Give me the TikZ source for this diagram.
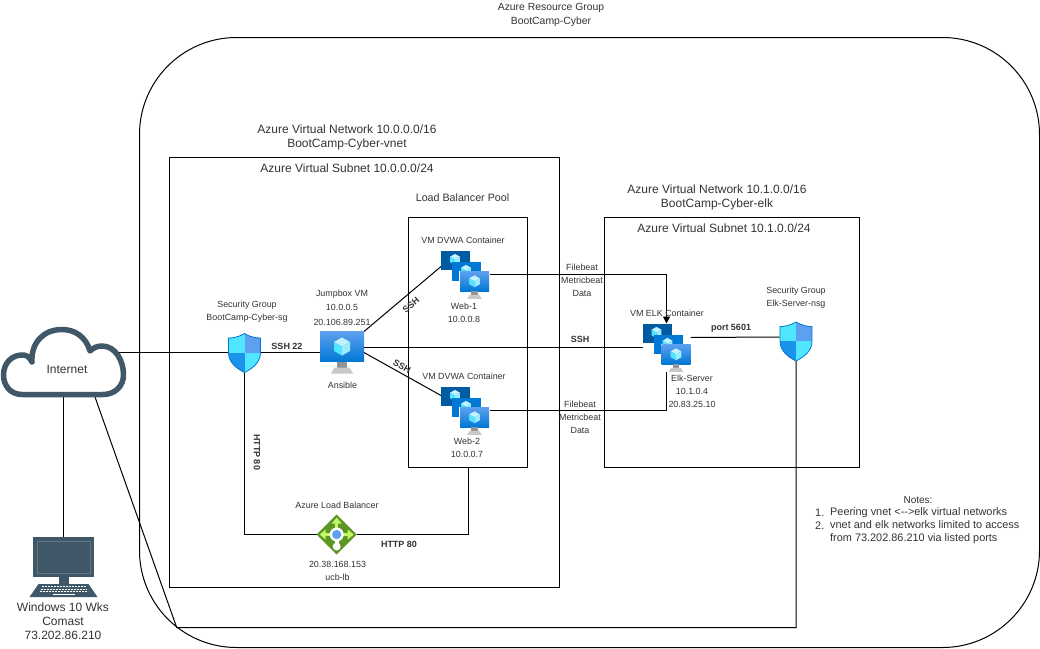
\documentclass[tikz,border=0pt]{standalone}
\usepackage{fontspec}
\setmainfont{Liberation Sans}
\usetikzlibrary{arrows.meta,calc}
\definecolor{txt}{HTML}{333333}
\definecolor{slate}{HTML}{3F5767}
\definecolor{vmdark}{HTML}{005BA1}
\definecolor{vmmid}{HTML}{0078D4}
\definecolor{vmtop}{HTML}{5EA0EF}
\definecolor{cubea}{HTML}{50E6FF}
\definecolor{cubeb}{HTML}{C3F1FF}
\definecolor{cubec}{HTML}{9CEBFF}
\definecolor{standa}{HTML}{949494}
\definecolor{standb}{HTML}{C8C8C8}
\definecolor{shieldblue}{HTML}{1B93EB}
\definecolor{shieldout}{HTML}{0078D4}
\definecolor{shieldlight}{HTML}{50E6FF}
\definecolor{lbgreen}{HTML}{5E9624}
\definecolor{lbarrow}{HTML}{C3F76C}
\tikzset{
  x=1pt,y=-1pt,
  line/.style={draw=black,line width=1pt},
  box/.style={draw=black,line width=1pt,fill=none},
  lab/.style={font=\fontsize{12}{14}\selectfont,text=txt,align=center,inner sep=0pt},
  title/.style={font=\fontsize{10.4}{14}\selectfont,text=txt,align=center,inner sep=0pt},
  small/.style={font=\fontsize{8.9}{13}\selectfont,text=txt,align=center,inner sep=0pt},
  notes/.style={font=\fontsize{10.9}{13}\selectfont,text=txt,align=left,inner sep=0pt,anchor=west},
  bold/.style={font=\fontsize{9}{12}\selectfont\bfseries,text=txt,align=center,inner sep=0pt},
  hold/.style={draw=none,fill=none,inner sep=0pt,outer sep=0pt,rectangle},
  pics/cube/.style={code={
    \begin{scope}[scale=#1]
      \fill[cubeb] (0,-9) -- (8,-4.5) -- (0,0) -- (-8,-4.5) -- cycle;
      \fill[cubea] (-8,-4.5) -- (0,0) -- (0,9) -- (-8,4.5) -- cycle;
      \fill[cubec] (8,-4.5) -- (0,0) -- (0,9) -- (8,4.5) -- cycle;
    \end{scope}}},
  pics/monitor/.style n args={2}{code={
    \path[top color=vmtop,bottom color=vmmid] (0,0) rectangle (#1,#2);
    \fill[standa] ({#1*0.38},#2) rectangle ({#1*0.62},{#2*1.2});
    \fill[standb] ({#1*0.25},{#2*1.4}) -- ({#1*0.75},{#2*1.4}) -- ({#1*0.67},{#2*1.2}) -- ({#1*0.33},{#2*1.2}) -- cycle;
    \pic at ({#1*0.5},{#2*0.5}) {cube={#1/44}};
  }},
  pics/vmstack/.style={code={
    \fill[vmdark] (0,0) rectangle (29,19);
    \pic at (14,9) {cube=0.62};
    \fill[vmmid] (11,11) rectangle (40,30);
    \pic at (25,20) {cube=0.62};
    \fill[white] (18,20) rectangle (49,42);
    \pic at (19,21) {monitor={29}{19.5}};
  }},
  pics/shield/.style={code={
    \def\shieldpath{(0,-19) .. controls (7,-15) and (12,-14.5) .. (16,-14.5) -- (16,0) .. controls (16,10) and (8,16) .. (0,20) .. controls (-8,16) and (-16,10) .. (-16,0) -- (-16,-14.5) .. controls (-12,-14.5) and (-7,-15) .. (0,-19) -- cycle}
    \begin{scope}
      \clip \shieldpath;
      \fill[shieldlight] (-17,-20) rectangle (0,0);
      \fill[vmtop] (0,-20) rectangle (17,0);
      \fill[shieldblue] (-17,0) rectangle (0,21);
      \fill[shieldlight] (0,0) rectangle (17,21);
    \end{scope}
    \draw[shieldout,line width=0.8pt] \shieldpath;
  }},
  pics/lbicon/.style={code={
    \fill[lbgreen] (0,-20) -- (20,0) -- (0,20) -- (-20,0) -- cycle;
    \fill[lbarrow] (-1.6,-14) -- (1.6,-14) -- (1.6,-5) -- (-1.6,-5) -- cycle;
    \fill[lbarrow] (0,-17) -- (5,-11) -- (-5,-11) -- cycle;
    \fill[lbarrow] (5,-1.6) -- (14,-1.6) -- (14,1.6) -- (5,1.6) -- cycle;
    \fill[lbarrow] (17,0) -- (11,-5) -- (11,5) -- cycle;
    \fill[lbarrow] (-5,-1.6) -- (-14,-1.6) -- (-14,1.6) -- (-5,1.6) -- cycle;
    \fill[lbarrow] (-17,0) -- (-11,-5) -- (-11,5) -- cycle;
    \fill[white] (-1.8,4) rectangle (1.8,10);
    \fill[white] (0,12) circle[radius=4];
    \fill[white] (0,0) circle[radius=7];
    \fill[vmtop] (0,0) circle[radius=4.6];
  }},
  pics/pcicon/.style={code={
    \fill[slate] (-30.5,0) rectangle (30.5,40);
    \draw[white,opacity=0.18,line width=0.8pt] (-26.5,4) rectangle (26.5,36);
    \fill[slate] (-5,40) rectangle (5,47);
    \fill[slate] (-25,47) -- (25,47) -- (34,60) -- (-34,60) -- cycle;
    \foreach \r/\a/\b in {49.5/-22/22,52/-23/23,54.5/-24/24}{
      \draw[white,line width=1pt,dash pattern=on 2pt off 1pt] (\a,\r) -- (\b,\r);
    }
    \draw[white,line width=1pt] (-11,57.5) -- (11,57.5);
  }},
}
\begin{document}
\begin{tikzpicture}
\useasboundingbox (0,0) rectangle (1040,648);

% containers
\draw[box] (139.5,134.5) arc[start angle=180,end angle=90,radius=97pt] -- (942.5,37.5)
  arc[start angle=90,end angle=0,radius=97pt] -- (1039.5,550.5)
  arc[start angle=0,end angle=-90,radius=97pt] -- (236.5,647.5)
  arc[start angle=-90,end angle=-180,radius=97pt] -- cycle;
\draw[box] (169.5,157.5) rectangle (559.5,587.5);
\draw[box] (408.5,217.5) rectangle (527.5,467.5);
\draw[box] (604.5,217.5) rectangle (859.5,467.5);

% icon holders
\node[hold,minimum width=125pt,minimum height=70pt] (inet) at (63.5,362) {};
\node[hold,minimum width=68pt,minimum height=60pt,anchor=north] (pc) at (63.5,537) {};
\node[hold,minimum width=32pt,minimum height=40pt] (sg) at (244.5,352.5) {};
\node[hold,minimum width=44pt,minimum height=42pt,anchor=north west] (jump) at (320,331.5) {};
\node[hold,minimum width=48pt,minimum height=48pt,anchor=north west] (web1) at (441,250.5) {};
\node[hold,minimum width=48pt,minimum height=48pt,anchor=north west] (web2) at (441,386.5) {};
\node[hold,minimum width=48pt,minimum height=48pt,anchor=north west] (elk) at (642.5,323.5) {};
\node[hold,minimum width=33pt,minimum height=40pt] (nsg) at (796,341) {};
\node[hold,minimum width=40pt,minimum height=40pt] (lb) at (336.7,534.5) {};
\coordinate (inetport) at (119,352.5);
\coordinate (c1) at (elk.north |- web1.east);
\coordinate (c2) at (elk.south |- web2.east);
\coordinate (c3) at (nsg.south |- 0,627.5);
\coordinate (c4) at (176.7,627.5);
\coordinate (c5) at (sg.south |- lb.west);
\coordinate (c6) at (468.5,534.5);
\coordinate (c7) at (468.5,467.5);
\coordinate (inetb) at (95,397);

% connectors
\draw[line] (inetport) -- (sg.west);
\draw[line] (sg.east) -- (jump.west);
\draw[line] (jump.north east) -- ([yshift=8pt]web1.west);
\draw[line] (jump.east) -- ([yshift=15pt]web2.west);
\draw[line] ([yshift=5pt]jump.east) -- (elk.west);
\draw[line] (sg.south) -- (c5) -- (lb.west);
\draw[line] (lb.east) -- (c6) -- (c7);
\draw[line,-{Triangle[length=7pt,width=7pt]}] (web1.east) -- (c1) -- (elk.north);
\draw[line] (web2.east) -- (c2) -- (elk.south);
\draw[line] ([yshift=10pt]elk.east) -- ([yshift=4pt]nsg.west);
\draw[line] (nsg.south) -- (c3) -- (c4) -- (inetb);
\draw[line] (inet.south) -- (pc.north);

% icons
\filldraw[draw=slate,fill=white,line width=5.5pt,line join=round]
  (22,394.5) .. controls (10,394.5) and (3.5,385) .. (3.5,375) .. controls (3.5,363) and (12,355) .. (22,355)
  .. controls (26,355) and (29,356) .. (32,362) .. controls (31,342) and (44,329.5) .. (62,329.5)
  .. controls (75,329.5) and (86,337) .. (90,351) .. controls (93,348) and (97,346) .. (102,346)
  .. controls (115,346) and (123.5,360) .. (123.5,375) .. controls (123.5,386) and (115,394.5) .. (103,394.5) -- cycle;
\pic at (pc.north) {pcicon};
\pic at (sg.center) {shield};
\pic at (nsg.center) {shield};
\pic at (jump.north west) {monitor={44}{30}};
\pic at (web1.north west) {vmstack};
\pic at (web2.north west) {vmstack};
\pic at (elk.north west) {vmstack};
\pic at (lb.center) {lbicon};

% labels
\node[title] (t1) at (551,15) {Azure Resource Group\\BootCamp-Cyber};
\node[lab] (t2) at (347,137) {Azure Virtual Network 10.0.0.0/16\\BootCamp-Cyber-vnet};
\node[lab] (t3) at (347,168) {Azure Virtual Subnet 10.0.0.0/24};
\node[title,font=\fontsize{10.7}{13}\selectfont] (t4) at (462.5,198) {Load Balancer Pool};
\node[lab] (t5) at (717,197) {Azure Virtual Network 10.1.0.0/16\\BootCamp-Cyber-elk};
\node[lab] (t6) at (724,228) {Azure Virtual Subnet 10.1.0.0/24};
\node[small] (t7) at (463,240) {VM DVWA Container};
\node[small] (t8) at (464,376) {VM DVWA Container};
\node[small] (t9) at (464,313) {Web-1\\10.0.0.8};
\node[small] (t10) at (467,448) {Web-2\\10.0.0.7};
\node[small] (t11) at (582,280) {Filebeat\\Metricbeat\\Data};
\node[small] (t12) at (580,417) {Filebeat\\Metricbeat\\Data};
\node[bold] (t13) at (580,339) {SSH};
\node[small] (t14) at (667,313) {VM ELK Container};
\node[small] (t15) at (692,391) {Elk-Server\\10.1.0.4\\20.83.25.10};
\node[bold] (t16) at (731,328) {port 5601};
\node[small] (t17) at (796,298) {Security Group\\Elk-Server-nsg};
\node[small] (t18) at (247,311.5) {Security Group\\BootCamp-Cyber-sg};
\node[small,font=\fontsize{8.9}{14.5}\selectfont] (t19) at (342,307.5) {Jumpbox VM\\10.0.0.5\\20.106.89.251};
\node[small] (t20) at (342.5,385) {Ansible};
\node[bold] (t21) at (287,346) {SSH 22};
\node[bold,rotate=40] (t22) at (411,305) {SSH};
\node[bold,rotate=-30] (t23) at (402,366) {SSH};
\node[bold,rotate=-90] (t24) at (257,452) {HTTP 80};
\node[bold] (t25) at (399,544) {HTTP 80};
\node[small] (t26) at (337,505) {Azure Load Balancer};
\node[small] (t27) at (337.5,571) {20.38.168.153\\ucb-lb};
\node[lab] (t28) at (67,369) {Internet};
\node[lab] (t29) at (63,621) {Windows 10 Wks\\Comast\\73.202.86.210};
\node[small,font=\fontsize{10}{13}\selectfont] (t30) at (918,500) {Notes:};
\node[notes] (t31) at (815,513) {1.};
\node[notes] (t32) at (830,513) {Peering vnet <{-}{-}>elk virtual networks};
\node[notes] (t33) at (815,526) {2.};
\node[notes] (t34) at (830,532.5) {vnet and elk networks limited to access\\from 73.202.86.210 via listed ports};
\end{tikzpicture}
\end{document}
